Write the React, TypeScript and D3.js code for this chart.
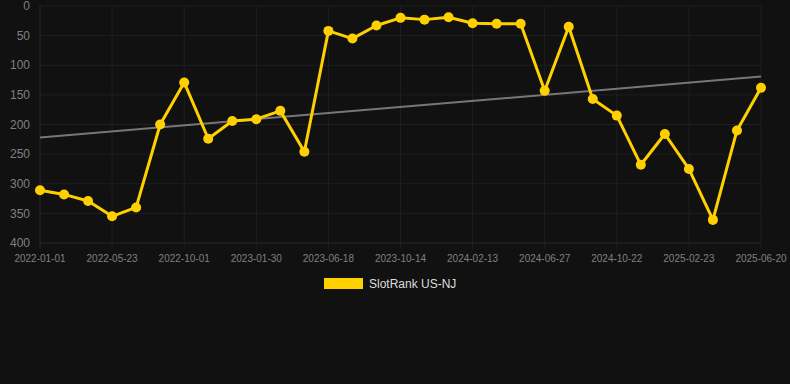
import React, { useEffect, useRef } from "react";
import * as d3 from "d3";

// categories (one per snapshot); only every third label is shown on the axis
const dates = [
  "2022-01-01", "2022-02-17", "2022-04-05", "2022-05-23", "2022-07-05", "2022-08-18",
  "2022-10-01", "2022-11-10", "2022-12-20", "2023-01-30", "2023-03-17", "2023-05-02",
  "2023-06-18", "2023-07-27", "2023-09-04", "2023-10-14", "2023-11-22", "2024-01-04",
  "2024-02-13", "2024-03-27", "2024-05-12", "2024-06-27", "2024-08-05", "2024-09-13",
  "2024-10-22", "2024-12-02", "2025-01-13", "2025-02-23", "2025-04-01", "2025-05-11",
  "2025-06-20",
];
const rank = [
  311, 318, 329, 355, 340, 200, 129, 224, 194, 191, 177, 246, 42, 55, 33, 20,
  23, 19, 29, 30, 30, 143, 35, 157, 185, 268, 216, 275, 361, 210, 138,
];
const yTicks = [0, 50, 100, 150, 200, 250, 300, 350, 400];
const seriesName = "SlotRank US-NJ";

const W = 790;
const H = 384;
const margin = { top: 6, right: 29, bottom: 141, left: 40 };
const font = "'Liberation Sans', Arial, Helvetica, sans-serif";

const drawChart = (node: SVGSVGElement) => {
  const svg = d3.select(node);
  svg.selectAll("*").remove();

  svg.append("rect").attr("width", W).attr("height", H).attr("fill", "#111111");

  const x = d3
    .scalePoint<string>()
    .domain(dates)
    .range([margin.left, W - margin.right]);
  const y = d3
    .scaleLinear()
    .domain([0, 400])
    .range([margin.top, H - margin.bottom]);

  const shown = dates.filter((_, i) => i % 3 === 0);

  // grid
  const grid = svg.append("g");
  grid
    .selectAll("line.h")
    .data(yTicks)
    .enter()
    .append("line")
    .attr("x1", margin.left)
    .attr("x2", W - margin.right)
    .attr("y1", d => y(d))
    .attr("y2", d => y(d))
    .attr("stroke", d => (d === 400 ? "#2a2a2a" : "#1f1f1f"))
    .attr("stroke-width", 1);
  grid
    .selectAll("line.v")
    .data(shown)
    .enter()
    .append("line")
    .attr("x1", d => x(d)!)
    .attr("x2", d => x(d)!)
    .attr("y1", margin.top)
    .attr("y2", y(400) + 6)
    .attr("stroke", (_, i) => (i === 0 ? "#2a2a2a" : "#1f1f1f"))
    .attr("stroke-width", 1);

  // y tick labels
  svg
    .append("g")
    .selectAll("text")
    .data(yTicks)
    .enter()
    .append("text")
    .attr("x", 30)
    .attr("y", d => y(d))
    .attr("dy", "0.35em")
    .attr("text-anchor", "end")
    .attr("fill", "#808080")
    .attr("font-family", font)
    .attr("font-size", 12)
    .text(d => d);

  // x tick labels
  svg
    .append("g")
    .selectAll("text")
    .data(shown)
    .enter()
    .append("text")
    .attr("x", d => x(d)!)
    .attr("y", y(400) + 19)
    .attr("text-anchor", "middle")
    .attr("fill", "#808080")
    .attr("font-family", font)
    .attr("font-size", 10)
    .text(d => d);

  // linear trend (least squares over the series)
  const idx = rank.map((_, i) => i);
  const mx = d3.mean(idx)!;
  const my = d3.mean(rank)!;
  const slope =
    d3.sum(idx, i => (i - mx) * (rank[i] - my)) / d3.sum(idx, i => (i - mx) ** 2);
  const at = (i: number) => my + slope * (i - mx);
  const last = dates.length - 1;
  svg
    .append("line")
    .attr("x1", x(dates[0])!)
    .attr("y1", y(at(0)))
    .attr("x2", x(dates[last])!)
    .attr("y2", y(at(last)))
    .attr("stroke", "#777777")
    .attr("stroke-width", 2);

  // series line
  const line = d3
    .line<number>()
    .x((_, i) => x(dates[i])!)
    .y(d => y(d));
  svg
    .append("path")
    .datum(rank)
    .attr("d", line)
    .attr("fill", "none")
    .attr("stroke", "#FFD000")
    .attr("stroke-width", 3)
    .attr("stroke-linejoin", "round");

  svg
    .append("g")
    .selectAll("circle")
    .data(rank)
    .enter()
    .append("circle")
    .attr("cx", (_, i) => x(dates[i])!)
    .attr("cy", d => y(d))
    .attr("r", 5)
    .attr("fill", "#FFD000");

  // legend
  const lg = svg.append("g");
  lg.append("rect")
    .attr("x", 324)
    .attr("y", 278)
    .attr("width", 39)
    .attr("height", 11)
    .attr("fill", "#FFD000");
  lg.append("text")
    .attr("x", 369)
    .attr("y", 284)
    .attr("dy", "0.35em")
    .attr("fill", "#dddddd")
    .attr("font-family", font)
    .attr("font-size", 12)
    .text(seriesName);
};

export default function App() {
  const ref = useRef<SVGSVGElement>(null);
  useEffect(() => {
    if (ref.current) drawChart(ref.current);
  }, []);
  return (
    <svg
      ref={ref}
      width={W}
      height={H}
      style={{ position: "fixed", left: 0, top: 0, display: "block" }}
    />
  );
}
